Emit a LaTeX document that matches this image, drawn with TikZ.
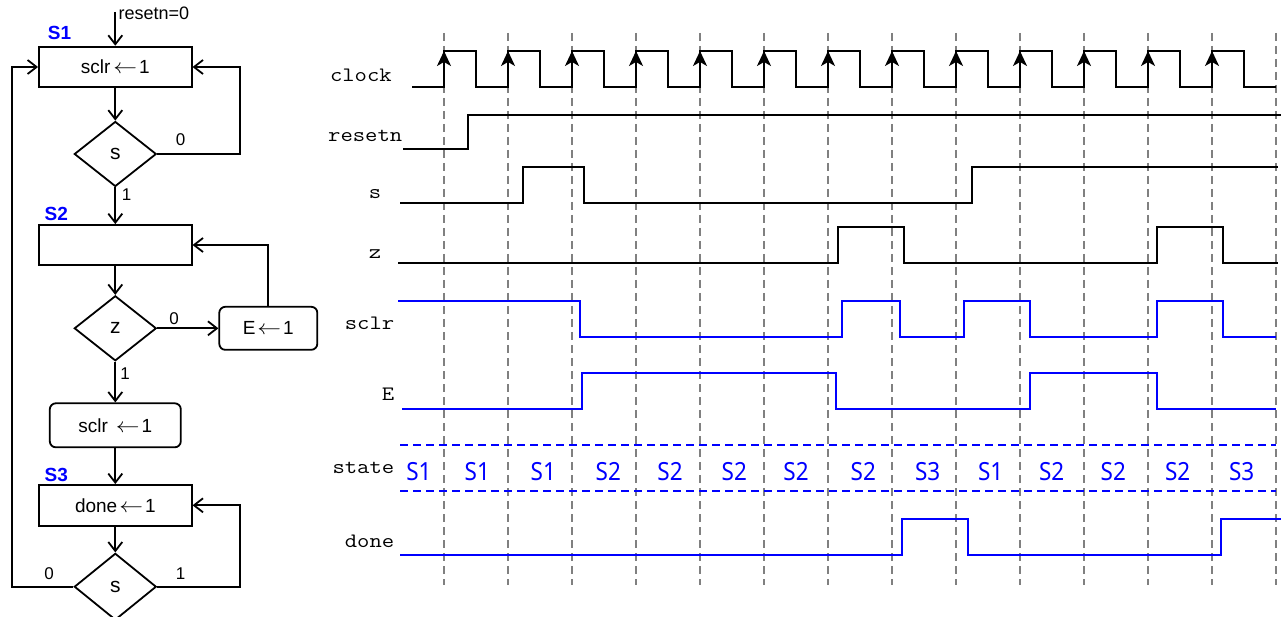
\RequirePackage{fix-cm}
\documentclass[tikz,border=0pt]{standalone}
\usepackage{graphicx}
\usepackage{fontspec}
\setmainfont{Liberation Sans}
\newfontfamily\monofont[FakeStretch=1.17]{Latin Modern Mono}
\newfontfamily\statefont[FakeStretch=0.9]{Noto Sans}
\usetikzlibrary{arrows.meta,shapes.geometric}
\newcommand\myla{\scalebox{1.25}[1.1]{$\leftarrow$}}
\begin{document}
\begin{tikzpicture}[x=1pt,y=-1pt,
  fl/.style={line width=1.8pt},
  arr/.style={fl,-{Straight Barb[length=9pt,width=14pt]}},
  box/.style={draw,fl,rectangle,inner sep=0pt,font=\fontsize{19}{22}\selectfont},
  rbox/.style={box,rounded corners=6pt},
  dia/.style={draw,fl,diamond,inner sep=0pt,minimum width=82pt,minimum height=65pt,font=\fontsize{21}{24}\selectfont},
  lbl/.style={inner sep=0pt,font=\fontsize{17}{20}\selectfont},
  ttl/.style={anchor=base,inner sep=0pt,text=blue,font=\bfseries\fontsize{19}{22}\selectfont},
  grid/.style={draw=black!50,line width=1.5pt,dash pattern=on 8pt off 5pt},
  wave/.style={line width=1.8pt,line join=miter},
  bwave/.style={wave,draw=blue},
  sdash/.style={draw=blue,line width=1.6pt,dash pattern=on 8pt off 5pt},
  sig/.style={anchor=base east,inner sep=0pt,font=\monofont\fontsize{20.5}{24}\selectfont},
  stl/.style={anchor=base,inner sep=0pt,text=blue,font=\statefont\fontsize{25}{30}\selectfont},
  clk/.style={line width=1.8pt,-{Stealth[length=15pt,width=14pt,inset=4pt]}}
]
\fill[white] (0,0) rectangle (1281,617);
\useasboundingbox (0,0) rectangle (1281,617);

% ---------------- flowchart ----------------
\coordinate (top) at (115.3,12);
\node[anchor=base west,inner sep=0pt,font=\fontsize{18}{21}\selectfont] (rlab) at (118.5,20) {resetn=0};
\node[ttl] (t1) at (59.5,39.3) {S1};
\node[ttl] (t2) at (56.3,220.7) {S2};
\node[ttl] (t3) at (56.3,481) {S3};

\node[box,minimum width=152.7pt,minimum height=40.7pt] (b1) at (115.3,67) {sclr\hspace{3pt}\myla\hspace{2pt}1};
\node[dia] (d1) at (115.3,154) {s};
\node[box,minimum width=152.7pt,minimum height=40pt] (b2) at (115.3,245) {};
\node[dia] (d2) at (115.3,328.3) {z};
\node[rbox,minimum width=98pt,minimum height=43pt] (e) at (268.3,328.3) {E\hspace{2pt}\myla\hspace{2pt}1};
\node[rbox,minimum width=131pt,minimum height=44pt] (b3) at (115.3,425.3) {sclr\hspace{8pt}\myla\hspace{2pt}1};
\node[box,minimum width=152.7pt,minimum height=40.7pt] (b4) at (115.3,505.3) {done\hspace{2pt}\myla\hspace{2pt}1};
\node[dia,minimum height=66.7pt] (d3) at (115.3,586.7) {s};

\draw[arr] (top) -- (b1);
\draw[arr] (b1) -- (d1);
\draw[arr] (d1) -- (b2);
\draw[arr] (b2) -- (d2);
\draw[arr] (d2) -- (e);
\draw[arr] (d2) -- (b3);
\draw[arr] (b3) -- (b4);
\draw[arr] (b4) -- (d3);
\draw[arr] (d1.east) -- ++(83,0) |- (b1.east);
\draw[arr] (e.north) |- (b2.east);
\draw[arr] (d3.east) -- ++(83,0) |- (b4.east);
\draw[arr] (d3.west) -- ++(-61.7,0) |- (b1.west);

\node[lbl] (l1) at (180.7,140) {0};
\node[lbl] (l2) at (126.7,194.3) {1};
\node[lbl] (l3) at (174,318.3) {0};
\node[lbl] (l4) at (125,373.3) {1};
\node[lbl] (l5) at (49,573.3) {0};
\node[lbl] (l6) at (180.7,573.3) {1};

% ---------------- timing diagram ----------------
\foreach \k in {0,...,13} \draw[grid] ({444+64*\k},33) -- ({444+64*\k},585);

\node[sig] (sclock) at (392,81.7) {clock};
\node[sig] (sreset) at (402.5,141.7) {resetn};
\node[sig] (ss) at (381.5,199) {s};
\node[sig] (sz) at (381.5,258.3) {z};
\node[sig] (ssclr) at (394.5,330) {sclr};
\node[sig] (sE) at (394.5,400.7) {E};
\node[sig] (sstate) at (394.5,473.3) {state};
\node[sig] (sdone) at (394.5,547.7) {done};

\draw[wave] (412,87) \foreach \k in {0,...,12} { -- ({444+64*\k},87) -- ({444+64*\k},51) -- ({476+64*\k},51) -- ({476+64*\k},87) } -- (1276,87);
\foreach \k in {0,...,12} \draw[clk] ({444+64*\k},87) -- ({444+64*\k},51);

\draw[wave] (403,149) -- (468,149) -- (468,115) -- (1281,115);
\draw[wave] (400,203) -- (523,203) -- (523,167) -- (584,167) -- (584,203) -- (972,203) -- (972,167) -- (1278,167);
\draw[wave] (398,263) -- (838,263) -- (838,227) -- (904,227) -- (904,263) -- (1157,263) -- (1157,227) -- (1223,227) -- (1223,263) -- (1278,263);

\draw[bwave] (398,301) -- (580,301) -- (580,337) -- (842,337) -- (842,301) -- (900,301) -- (900,337) -- (964,337) -- (964,301) -- (1030,301) -- (1030,337) -- (1157,337) -- (1157,301) -- (1223,301) -- (1223,337) -- (1276,337);
\draw[bwave] (402,409) -- (582,409) -- (582,373) -- (836,373) -- (836,409) -- (1030,409) -- (1030,373) -- (1157,373) -- (1157,409) -- (1276,409);
\draw[sdash] (400,445) -- (1276,445);
\draw[sdash] (400,491) -- (1276,491);
\foreach \x/\s [count=\i] in {419/S1,477.3/S1,543.3/S1,608.3/S2,670/S2,734.3/S2,796/S2,863.3/S2,927.7/S3,990.7/S1,1051.7/S2,1113.3/S2,1177.7/S2,1241.7/S3}
  \node[stl] (st\i) at (\x,480) {\s};
\draw[bwave] (400,555) -- (902,555) -- (902,519) -- (968,519) -- (968,555) -- (1221,555) -- (1221,519) -- (1281,519);
\end{tikzpicture}
\end{document}
